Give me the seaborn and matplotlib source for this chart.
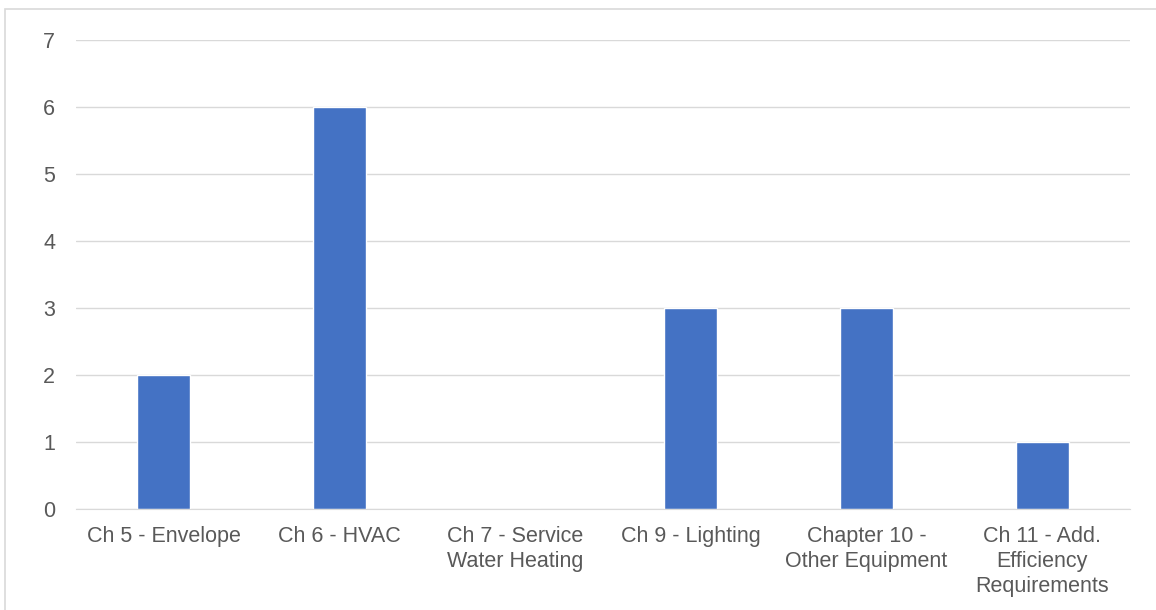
import matplotlib
matplotlib.use("Agg")
import matplotlib.pyplot as plt
import seaborn as sns
import pandas as pd
from matplotlib.patches import Rectangle

categories = ["Ch 5 - Envelope", "Ch 6 - HVAC", "Ch 7 - Service\nWater Heating",
              "Ch 9 - Lighting", "Chapter 10 -\nOther Equipment",
              "Ch 11 - Add.\nEfficiency\nRequirements"]
counts = [2, 6, 0, 3, 3, 1]
y_ticks = [0, 1, 2, 3, 4, 5, 6, 7]

df = pd.DataFrame({"category": categories, "count": counts})

sns.set_style("white")
plt.rcParams["font.family"] = ["Liberation Sans", "DejaVu Sans"]

fig = plt.figure(figsize=(11.56, 6.10), dpi=100)
ax = fig.add_axes([0.0657, 0.1656, 0.9118, 0.7688])

# light border around the chart area
fig.patches.append(Rectangle((5 / 1156, -0.01), 1.02, 1 - 9 / 610 + 0.01,
                             transform=fig.transFigure, fill=False,
                             edgecolor="#d9d9d9", linewidth=1.2))

sns.barplot(data=df, x="category", y="count", color="#4472c4",
            saturation=1, width=0.30, ax=ax)

ax.set_ylim(0, 7)
ax.set_yticks(y_ticks)
ax.set_xlim(-0.5, len(categories) - 0.5)
ax.yaxis.grid(True, color="#d9d9d9", linewidth=1)
ax.set_axisbelow(True)
for s in ["top", "right", "left"]:
    ax.spines[s].set_visible(False)
ax.spines["bottom"].set_color("#d9d9d9")
ax.set_xlabel("")
ax.set_ylabel("")
ax.tick_params(axis="both", length=0, labelsize=15.5, labelcolor="#595959")
ax.tick_params(axis="y", pad=15)
ax.tick_params(axis="x", pad=12)
for lbl in ax.get_xticklabels():
    lbl.set_linespacing(1.25)

fig.savefig("out.png", dpi=100)
